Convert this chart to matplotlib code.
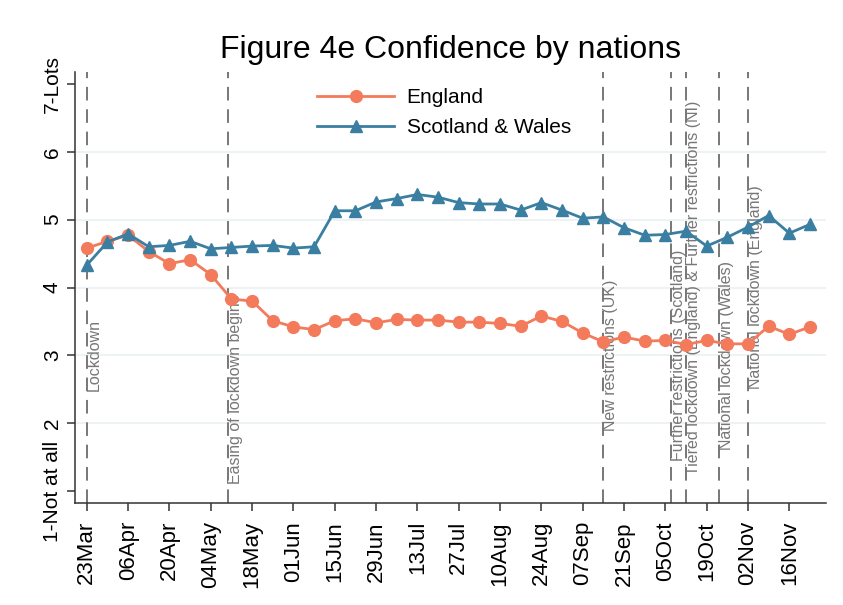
import matplotlib
matplotlib.use("Agg")
import matplotlib.pyplot as plt
import matplotlib.dates as mdates
import pandas as pd

plt.rcParams["font.family"] = ["Liberation Sans", "DejaVu Sans"]

# weekly survey waves, starting 23 March 2020
start = "2020-03-23"
england = [4.58, 4.68, 4.77, 4.53, 4.35, 4.41, 4.19, 3.83, 3.80, 3.51, 3.42, 3.38,
           3.51, 3.54, 3.48, 3.53, 3.52, 3.52, 3.49, 3.49, 3.47, 3.43, 3.58, 3.50,
           3.33, 3.20, 3.27, 3.21, 3.22, 3.16, 3.22, 3.17, 3.17, 3.43, 3.31, 3.42]
scot_wales = [4.33, 4.67, 4.79, 4.60, 4.62, 4.68, 4.57, 4.59, 4.61, 4.62, 4.58, 4.60,
              5.13, 5.13, 5.26, 5.31, 5.37, 5.33, 5.25, 5.23, 5.23, 5.14, 5.25, 5.14,
              5.02, 5.04, 4.88, 4.77, 4.78, 4.83, 4.61, 4.74, 4.89, 5.06, 4.80, 4.93]
dates = pd.date_range(start, periods=len(england), freq="7D")

# policy events: date, label, label centre height
event_dates = ["2020-03-23", "2020-05-10", "2020-09-14", "2020-10-07",
               "2020-10-12", "2020-10-23", "2020-11-02"]
event_labels = ["Lockdown", "Easing of lockdown begins", "New restrictions (UK)",
                "Further restrictions (Scotland)",
                "Tiered lockdown (England) & Further restrictions (NI)",
                "National lockdown (Wales)", "National lockdown (England)"]
event_ypos = [3, 2.5, 3, 3, 4, 3, 4]

fig = plt.figure(figsize=(8.43, 6.05), dpi=100)
ax = fig.add_axes([75 / 843, 1 - 503 / 605, 751 / 843, 431 / 605])

for d in range(2, 7):
    ax.axhline(d, color="#eaf1f4", lw=1.2, zorder=0)

for d, lab, yp in zip(event_dates, event_labels, event_ypos):
    dt = pd.Timestamp(d)
    ax.axvline(dt, color="#777777", lw=1.4, ls=(0, (7, 4.5)), zorder=1)
    ax.text(dt, yp, lab, rotation=90, ha="left", va="center",
            fontsize=11.5, color="#777777", zorder=2)

ax.plot(dates, england, color="#f47a5c", lw=2, marker="o", ms=8.5,
        label="England", zorder=3)
ax.plot(dates, scot_wales, color="#3a7fa2", lw=2, marker="^", ms=8.5,
        label="Scotland & Wales", zorder=3)

ax.set_ylim(0.826, 7.174)
ax.set_xlim(pd.Timestamp("2020-03-19"), pd.Timestamp("2020-11-28 10:00"))
ax.set_yticks(range(1, 8))
ax.set_yticklabels(["1-Not at all", "2", "3", "4", "5", "6", "7-Lots"],
                   rotation=90, va="center", fontsize=15)
ax.set_xticks(pd.date_range(start, "2020-11-16", freq="14D"))
ax.xaxis.set_major_formatter(mdates.DateFormatter("%d%b"))
plt.setp(ax.get_xticklabels(), rotation=90, fontsize=16)
ax.tick_params(direction="out", length=6, width=1.1, color="#333333")
ax.tick_params(axis="x", pad=7)

for s in ["top", "right"]:
    ax.spines[s].set_visible(False)
for s in ["left", "bottom"]:
    ax.spines[s].set_linewidth(1.1)
    ax.spines[s].set_color("#333333")

ax.set_title("Figure 4e Confidence by nations", fontsize=23, pad=10)
ax.legend(loc="upper left", bbox_to_anchor=(317 / 843, 1 - 88 / 605),
          bbox_transform=fig.transFigure, frameon=False, fontsize=15,
          handlelength=3.7, handletextpad=0.6, labelspacing=0.55,
          borderpad=0, borderaxespad=0)

fig.savefig("out.png", dpi=100, facecolor="white")
